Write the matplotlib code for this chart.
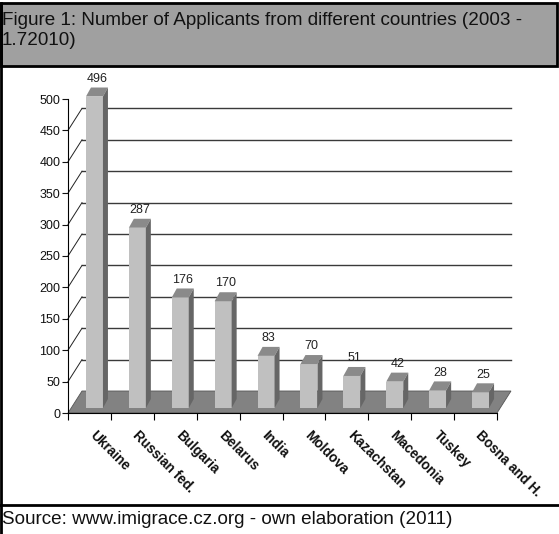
import matplotlib
matplotlib.use("Agg")
import matplotlib.pyplot as plt
from matplotlib.patches import Polygon, Rectangle
from matplotlib.lines import Line2D

plt.rcParams['font.family'] = ['Liberation Sans', 'DejaVu Sans']

# Applicants per country
countries = ['Ukraine', 'Russian fed.', 'Bulgaria', 'Belarus', 'India',
             'Moldova', 'Kazachstan', 'Macedonia', 'Tuskey', 'Bosna and H.']
applicants = [496, 287, 176, 170, 83, 70, 51, 42, 28, 25]
y_ticks = list(range(0, 501, 50))

title_lines = ['Figure 1: Number of Applicants from different countries (2003 -',
               '1.72010)']
source = 'Source: www.imigrace.cz.org - own elaboration (2011)'

W, H = 559, 534
fig = plt.figure(figsize=(W / 100, H / 100), dpi=100)
fig.patch.set_facecolor('white')

def fx(px):
    return px / W

def fy(py):
    return 1 - py / H

# plot area in pixels
left, right, top, bottom = 68, 497, 99, 413
ax = fig.add_axes([fx(left), fy(bottom), fx(right - left), (bottom - top) / H])
ax.set_xlim(0, len(countries))
ax.set_ylim(0, 500)
ax.patch.set_alpha(0)

# pixel -> data scale
sx = len(countries) / (right - left)
sy = 500 / (bottom - top)

# depth of the floor / back wall, and of the bars (pixels)
wall_dx, wall_dy = 14, 22
bar_ox, bar_oy = 5, 5
bar_dx, bar_dy = 5, 9
bar_w = 17

# floor
n = len(countries)
floor = Polygon([(0, 0), (n, 0), (n + wall_dx * sx, wall_dy * sy),
                 (wall_dx * sx, wall_dy * sy)], closed=True,
                facecolor='#828282', edgecolor='#555555', lw=0.6,
                clip_on=False, zorder=1)
ax.add_patch(floor)

# back wall grid with the slanted connectors to the axis
for v in y_ticks[1:-1]:
    ax.add_line(Line2D([wall_dx * sx, n + wall_dx * sx],
                       [v + wall_dy * sy, v + wall_dy * sy],
                       color='#3a3a3a', lw=1.0, clip_on=False, zorder=0.5))
    ax.add_line(Line2D([0, wall_dx * sx], [v, v + wall_dy * sy],
                       color='#222222', lw=0.7, clip_on=False, zorder=0.5))

# bars
for i, (name, val) in enumerate(zip(countries, applicants)):
    x0 = i + 0.5 - bar_w * sx / 2 + bar_ox * sx
    x1 = x0 + bar_w * sx
    y0 = bar_oy * sy
    y1 = y0 + val
    ddx, ddy = bar_dx * sx, bar_dy * sy
    front = Rectangle((x0, y0), x1 - x0, val, facecolor='#c0c0c0',
                      edgecolor='none', clip_on=False, zorder=3)
    topf = Polygon([(x0, y1), (x1, y1), (x1 + ddx, y1 + ddy), (x0 + ddx, y1 + ddy)],
                   closed=True, facecolor='#8a8a8a', edgecolor='none',
                   clip_on=False, zorder=3)
    side = Polygon([(x1, y0), (x1 + ddx, y0 + ddy), (x1 + ddx, y1 + ddy), (x1, y1)],
                   closed=True, facecolor='#666666', edgecolor='none',
                   clip_on=False, zorder=3)
    for p in (front, topf, side):
        ax.add_patch(p)
    ax.annotate(str(val), ((x0 + x1) / 2 + ddx / 2, y1 + ddy),
                xytext=(0, 2), textcoords='offset points',
                ha='center', va='bottom', fontsize=9, color='#222222',
                annotation_clip=False, zorder=4)
    ax.annotate(name, (i + 0.5, 0), xytext=(5.5, -11),
                textcoords='offset points', rotation=-45,
                rotation_mode='anchor', ha='left', va='top',
                fontsize=9.8, fontweight='bold', color='#111111',
                annotation_clip=False)

# axes
for s in ('top', 'right'):
    ax.spines[s].set_visible(False)
ax.spines['left'].set_linewidth(0.8)
ax.spines['bottom'].set_linewidth(0.8)
ax.spines['bottom'].set_zorder(5)
ax.set_yticks(y_ticks)
ax.set_xticks(range(n + 1))
ax.set_xticklabels([])
ax.tick_params(axis='y', direction='out', length=4, width=0.8,
               labelsize=9, pad=1.5, colors='#111111')
ax.tick_params(axis='x', direction='out', length=5, width=0.8)

# title band and frame
fig.add_artist(Rectangle((fx(1), fy(66)), fx(556), (66 - 3) / H,
                         transform=fig.transFigure, facecolor='#a0a0a0',
                         edgecolor='black', lw=2))
for k, line in enumerate(title_lines):
    fig.text(fx(2), fy(25 + 20 * k), line, ha='left', va='baseline',
             fontsize=13.6, color='#111111')
fig.add_artist(Line2D([fx(1), fx(1)], [fy(3), 0], transform=fig.transFigure,
                      color='black', lw=2))
fig.add_artist(Line2D([0, 1], [fy(504.5), fy(504.5)], transform=fig.transFigure,
                      color='black', lw=2))
fig.text(fx(2), fy(524), source, ha='left', va='baseline', fontsize=13.6,
         color='#111111')

fig.savefig('out.png', dpi=100)
